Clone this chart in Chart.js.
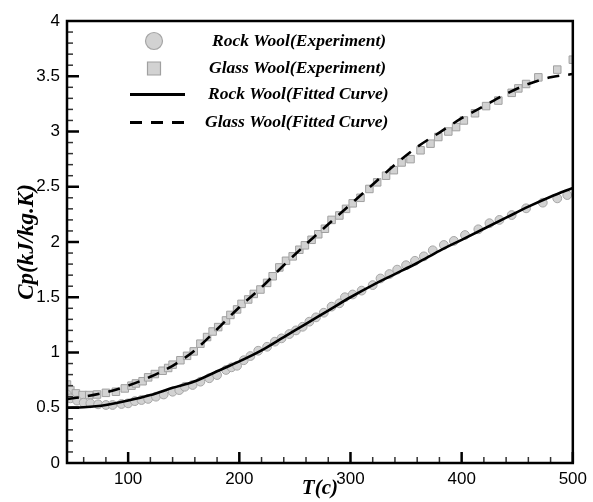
<!DOCTYPE html>
<html>
<head>
<meta charset="utf-8">
<script src="https://cdn.jsdelivr.net/npm/chart.js@4.4.1/dist/chart.umd.min.js"></script>
<style>
html, body { margin: 0; padding: 0; background: #fff; }
</style>
</head>
<body>
<canvas id="myChart" width="593" height="502"></canvas>
<script>
var rockT = [45, 48, 54, 60, 66, 73, 80, 86, 94, 100, 106, 112, 118, 125, 132, 140, 146, 151, 158, 165, 173, 180, 188, 193, 198, 204, 210, 217, 225, 232, 238, 245, 251, 257, 263, 269, 276, 283, 290, 295, 302, 310, 320, 327, 335, 342, 350, 358, 366, 374, 384, 393, 403, 415, 425, 434, 445, 458, 473, 486, 495];
var rockCp = [0.62, 0.585, 0.565, 0.546, 0.54, 0.531, 0.525, 0.525, 0.534, 0.54, 0.56, 0.57, 0.58, 0.60, 0.62, 0.645, 0.66, 0.69, 0.706, 0.736, 0.767, 0.796, 0.842, 0.866, 0.88, 0.93, 0.968, 1.016, 1.052, 1.098, 1.128, 1.167, 1.20, 1.233, 1.279, 1.318, 1.36, 1.415, 1.445, 1.50, 1.525, 1.56, 1.61, 1.67, 1.71, 1.75, 1.79, 1.83, 1.87, 1.925, 1.973, 2.01, 2.063, 2.115, 2.17, 2.20, 2.244, 2.305, 2.356, 2.395, 2.425];

var glassT = [45, 48, 53, 59, 65, 72, 80, 89, 97, 103, 107, 113, 118, 124, 131, 136, 140, 147, 153, 159, 165, 171, 176, 181, 188, 192, 198, 202, 208, 213, 219, 225, 230, 236, 242, 248, 254, 259, 265, 271, 277, 283, 290, 296, 302, 309, 317, 324, 332, 339, 346, 354, 363, 372, 379, 388, 395, 402, 412, 422, 433, 445, 451, 458, 469, 486, 500];
var glassCp = [0.71, 0.66, 0.63, 0.615, 0.615, 0.62, 0.635, 0.645, 0.675, 0.70, 0.72, 0.74, 0.775, 0.805, 0.835, 0.86, 0.89, 0.93, 0.97, 1.01, 1.08, 1.14, 1.19, 1.23, 1.29, 1.34, 1.39, 1.44, 1.48, 1.53, 1.57, 1.63, 1.69, 1.77, 1.83, 1.87, 1.93, 1.97, 2.02, 2.07, 2.12, 2.20, 2.24, 2.30, 2.35, 2.40, 2.48, 2.54, 2.60, 2.65, 2.72, 2.75, 2.83, 2.89, 2.95, 3.00, 3.04, 3.10, 3.165, 3.23, 3.28, 3.35, 3.39, 3.43, 3.49, 3.56, 3.65];

// Fitted curves
var fitT = [45, 60, 80, 100, 120, 140, 160, 180, 200, 220, 240, 260, 280, 300, 320, 340, 360, 380, 400, 420, 440, 460, 480, 500];
var rockFitCp = [0.50, 0.505, 0.525, 0.565, 0.615, 0.68, 0.74, 0.83, 0.92, 1.02, 1.14, 1.26, 1.38, 1.50, 1.61, 1.71, 1.81, 1.92, 2.02, 2.12, 2.22, 2.32, 2.41, 2.49];
var glassFitCp = [0.58, 0.60, 0.64, 0.70, 0.78, 0.88, 1.02, 1.21, 1.41, 1.59, 1.79, 1.98, 2.16, 2.34, 2.52, 2.70, 2.86, 2.99, 3.12, 3.23, 3.34, 3.43, 3.49, 3.52];

var xTickValues = [100, 200, 300, 400, 500];

function toPoints(xs, ys) {
    return xs.map(function (x, i) { return { x: x, y: ys[i] }; });
}

// frame, inward ticks and legend drawn on top of the scales
var decorations = {
    id: 'decorations',
    afterDatasetsDraw: function (chart) {
        var ctx = chart.ctx;
        var a = chart.chartArea;
        var xs = chart.scales.x, ys = chart.scales.y;
        ctx.save();
        ctx.lineCap = 'butt';
        // minor ticks
        ctx.lineWidth = 1.5;
        ctx.strokeStyle = '#333';
        for (var v = 60; v < 500; v += 20) {
            if (v % 100 === 0) continue;
            var px = xs.getPixelForValue(v);
            ctx.beginPath(); ctx.moveTo(px, a.bottom); ctx.lineTo(px, a.bottom - 6); ctx.stroke();
        }
        for (var k = 1; k < 40; k++) {
            if (k % 5 === 0) continue;
            var py = ys.getPixelForValue(k / 10);
            ctx.beginPath(); ctx.moveTo(a.left, py); ctx.lineTo(a.left + 6, py); ctx.stroke();
        }
        // major ticks
        ctx.lineWidth = 2.5;
        ctx.strokeStyle = '#000';
        xTickValues.forEach(function (t) {
            var px = xs.getPixelForValue(t);
            ctx.beginPath(); ctx.moveTo(px, a.bottom); ctx.lineTo(px, a.bottom - 11); ctx.stroke();
        });
        for (var j = 1; j < 8; j++) {
            var py2 = ys.getPixelForValue(j / 2);
            ctx.beginPath(); ctx.moveTo(a.left, py2); ctx.lineTo(a.left + 12, py2); ctx.stroke();
        }
        // frame
        ctx.lineWidth = 2.5;
        ctx.strokeRect(a.left, a.top, a.right - a.left, a.bottom - a.top);

        // legend
        var rows = [20, 47.5, 73.5, 101.5];
        var shift = [-3, 0, 1, 4];
        var symX = a.left + 87;
        var textX = a.left + 142;
        ctx.font = 'bold italic 17.5px "Liberation Serif", "Times New Roman", serif';
        ctx.textBaseline = 'middle';
        ctx.textAlign = 'left';
        chart.data.datasets.forEach(function (ds, i) {
            var y = a.top + rows[i];
            if (ds.showLine) {
                ctx.strokeStyle = '#000';
                ctx.lineWidth = 3;
                ctx.setLineDash(ds.borderDash || []);
                ctx.beginPath(); ctx.moveTo(symX - 24, y); ctx.lineTo(symX + 31, y); ctx.stroke();
                ctx.setLineDash([]);
            } else {
                ctx.fillStyle = ds.backgroundColor;
                ctx.strokeStyle = ds.borderColor;
                ctx.lineWidth = 1.2;
                ctx.beginPath();
                if (ds.pointStyle === 'rect') {
                    ctx.rect(symX - 6.5, y - 6.5, 13, 13);
                } else {
                    ctx.arc(symX, y, 8.5, 0, Math.PI * 2);
                }
                ctx.fill(); ctx.stroke();
            }
            ctx.fillStyle = '#000';
            ctx.fillText(ds.label, textX - shift[i], y);
        });
        ctx.restore();
    }
};

var ctx = document.getElementById('myChart').getContext('2d');
var myChart = new Chart(ctx, {
    type: 'scatter',
    data: {
        datasets: [{
            label: 'Rock Wool(Experiment)',
            data: toPoints(rockT, rockCp),
            pointStyle: 'circle',
            pointRadius: 4.4,
            backgroundColor: '#d2d2d2',
            borderColor: '#a6a6a6',
            borderWidth: 1,
            order: 2
        }, {
            label: 'Glass Wool(Experiment)',
            data: toPoints(glassT, glassCp),
            pointStyle: 'rect',
            pointRadius: 5.3,
            backgroundColor: '#d2d2d2',
            borderColor: '#a0a0a0',
            borderWidth: 1,
            order: 2
        }, {
            label: 'Rock Wool(Fitted Curve)',
            data: toPoints(fitT, rockFitCp),
            showLine: true,
            borderColor: '#000',
            borderWidth: 2.6,
            pointRadius: 0,
            cubicInterpolationMode: 'monotone',
            order: 1
        }, {
            label: 'Glass Wool(Fitted Curve)',
            data: toPoints(fitT, glassFitCp),
            showLine: true,
            borderColor: '#000',
            borderWidth: 2.6,
            borderDash: [12, 9],
            pointRadius: 0,
            cubicInterpolationMode: 'monotone',
            order: 1
        }]
    },
    options: {
        responsive: false,
        animation: false,
        layout: { padding: { left: 0, top: 21, right: 15, bottom: 0 } },
        plugins: {
            legend: { display: false },
            tooltip: { enabled: false }
        },
        scales: {
            x: {
                type: 'linear',
                min: 45,
                max: 500,
                grid: { display: false, drawTicks: false },
                border: { display: false },
                afterBuildTicks: function (s) {
                    s.ticks = xTickValues.map(function (v) { return { value: v }; });
                },
                afterFit: function (s) { s.height = 39; },
                ticks: {
                    padding: 6,
                    color: '#000',
                    font: { family: '"Liberation Sans", Arial, sans-serif', size: 17 }
                },
                title: {
                    display: true,
                    text: 'T(c)',
                    color: '#000',
                    padding: { top: 0, bottom: 1 },
                    font: { family: '"Liberation Serif", "Times New Roman", serif', size: 21, style: 'italic', weight: 'bold' }
                }
            },
            y: {
                type: 'linear',
                min: 0,
                max: 4,
                grid: { display: false, drawTicks: false },
                border: { display: false },
                afterFit: function (s) { s.width = 67; },
                ticks: {
                    stepSize: 0.5,
                    padding: 7,
                    color: '#000',
                    font: { family: '"Liberation Sans", Arial, sans-serif', size: 17 },
                    callback: function (value) { return String(Math.round(value * 10) / 10); }
                },
                title: {
                    display: true,
                    text: 'Cp(kJ/kg.K)',
                    color: '#000',
                    padding: { top: 13, bottom: 0 },
                    font: { family: '"Liberation Serif", "Times New Roman", serif', size: 23, style: 'italic', weight: 'bold' }
                }
            }
        }
    },
    plugins: [decorations]
});
</script>
</body>
</html>
